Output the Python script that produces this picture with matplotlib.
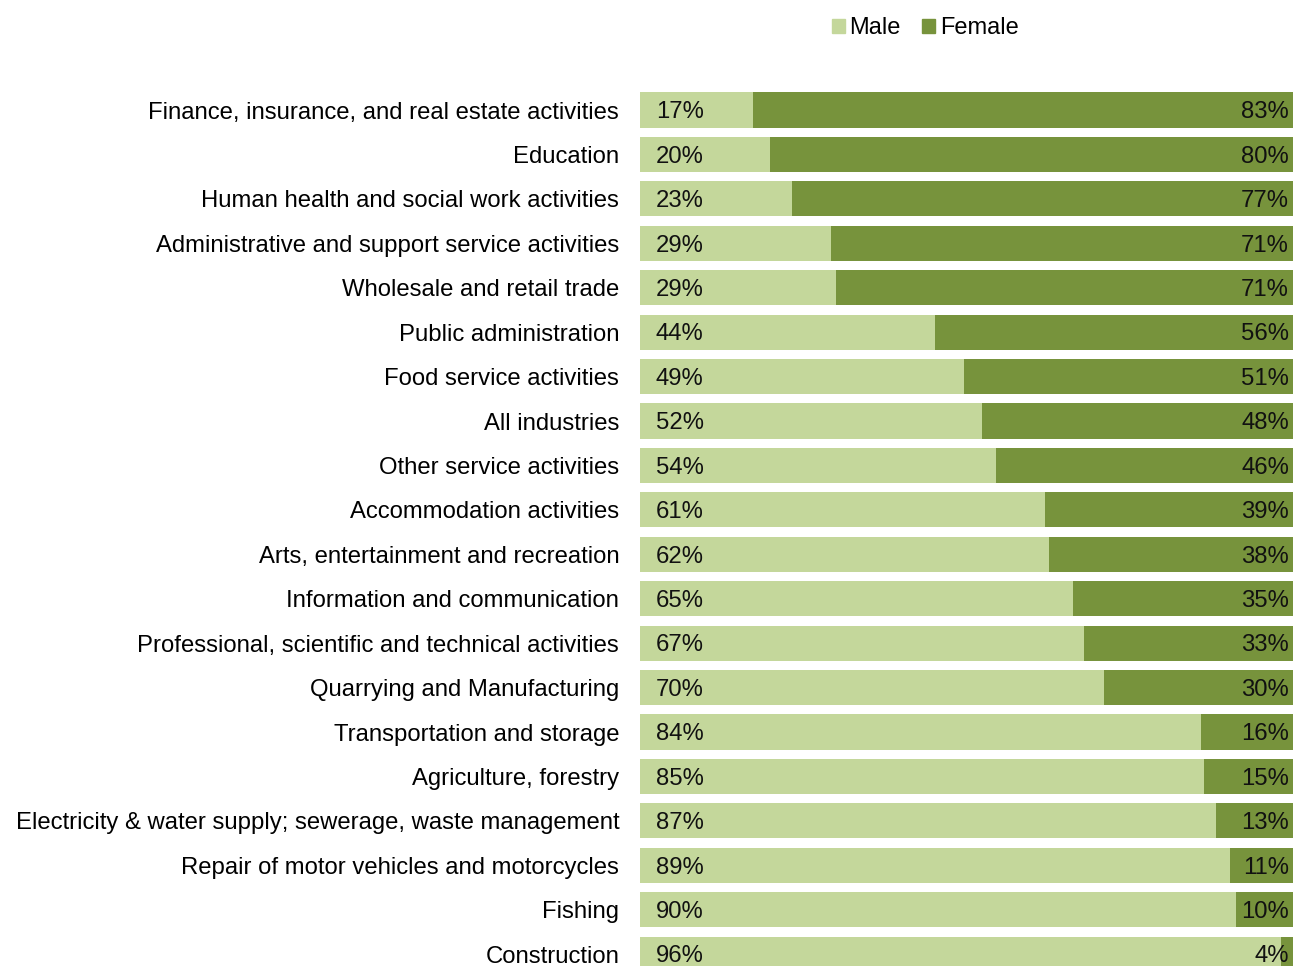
import matplotlib.pyplot as plt
from matplotlib.patches import Patch

plt.rcParams['font.family'] = ['Liberation Sans', 'DejaVu Sans']

# Share of workforce by sex, per industry
industries = [
    "Finance, insurance, and real estate activities",
    "Education",
    "Human health and social work activities",
    "Administrative and support service activities",
    "Wholesale and retail trade",
    "Public administration",
    "Food service activities",
    "All industries",
    "Other service activities",
    "Accommodation activities",
    "Arts, entertainment and recreation",
    "Information and communication",
    "Professional, scientific and technical activities",
    "Quarrying and Manufacturing",
    "Transportation and storage",
    "Agriculture, forestry",
    "Electricity & water supply; sewerage, waste management",
    "Repair of motor vehicles and motorcycles",
    "Fishing",
    "Construction",
]
# bar lengths (unrounded) and the printed labels
male_share = [16.95, 19.6, 22.86, 28.68, 29.43, 44.32, 48.77, 51.43, 53.53, 60.86,
              61.55, 65.16, 66.72, 69.77, 84.36, 84.86, 86.62, 88.68, 89.67, 96.39]
female_share = [83.05, 80.4, 77.14, 71.32, 70.57, 55.68, 51.23, 48.57, 46.47, 39.14,
                38.45, 34.84, 33.28, 30.23, 15.64, 15.14, 13.38, 11.32, 10.33, 3.61]
male_label = [17, 20, 23, 29, 29, 44, 49, 52, 54, 61, 62, 65, 67, 70, 84, 85, 87, 89, 90, 96]
female_label = [83, 80, 77, 71, 71, 56, 51, 48, 46, 39, 38, 35, 33, 30, 16, 15, 13, 11, 10, 4]

male_color = '#C4D79B'
female_color = '#77933C'

W, H = 1293, 966
fig = plt.figure(figsize=(W / 100, H / 100), dpi=100)

# plot area runs a little past the right and bottom edges of the image (cropped chart)
top_px, first_c, pitch = 80, 110, 44.43
ax = fig.add_axes([640 / W, 0, 665 / W, (H - top_px) / H])
ax.set_xlim(0, 100)
ax.set_ylim((H - first_c) / pitch, (top_px - first_c) / pitch)

y = list(range(len(industries)))
ax.barh(y, male_share, height=0.79, color=male_color, label='Male')
ax.barh(y, female_share, left=male_share, height=0.79, color=female_color, label='Female')

fs = 17.2
for i in y:
    ax.text(2.4, i + 0.05, f"{male_label[i]}%", ha='left', va='center', fontsize=fs, color='#111111')
    ax.text(97.6, i + 0.05, f"{female_label[i]}%", ha='right', va='center', fontsize=fs, color='#111111')

ax.set_yticks(y)
ax.set_yticklabels(industries, fontsize=fs)
ax.tick_params(axis='y', length=0, pad=15)
ax.set_xticks([])
for s in ax.spines.values():
    s.set_visible(False)

handles = [Patch(color=male_color, label='Male'), Patch(color=female_color, label='Female')]
fig.legend(handles=handles, loc='center', bbox_to_anchor=(925 / W, 1 - 28 / H), ncol=2,
           frameon=False, fontsize=17, handlelength=0.55, handleheight=0.55,
           handletextpad=0.2, columnspacing=0.9)

fig.savefig('out.png', dpi=100)
